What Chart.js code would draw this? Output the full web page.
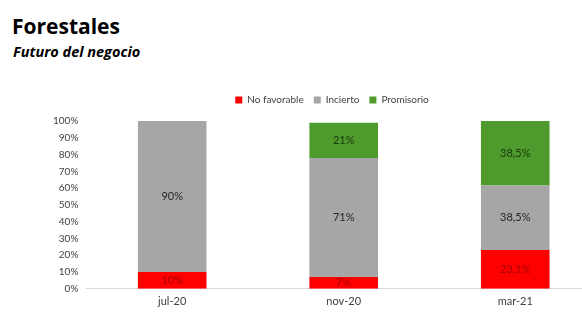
<!DOCTYPE html>
<html>
<head>
<meta charset="utf-8">
<script src="https://cdn.jsdelivr.net/npm/chart.js@4"></script>
<style>
  body { margin: 0; background: #fff; width: 582px; height: 330px; overflow: hidden; position: relative; }
  h1 { position: absolute; left: 12px; top: 12px; margin: 0; font: bold 21px "Open Sans", sans-serif; color: #000; }
  h2 { position: absolute; left: 13px; top: 42px; margin: 0; font: italic bold 14.5px "Open Sans", sans-serif; color: #000; }
  #wrap { position: absolute; left: 0; top: 0; width: 660px; height: 330px; }
</style>
</head>
<body>
<h1>Forestales</h1>
<h2>Futuro del negocio</h2>
<div id="wrap"><canvas id="futuroChart"></canvas></div>
<script>
var periodos = ['jul-20', 'nov-20', 'mar-21'];
var noFavorable = [10, 7, 23.1];
var incierto = [90, 71, 38.5];
var promisorio = [0, 21, 38.5];

// etiquetas de porcentaje dentro de cada segmento
var etiquetas = {
  id: 'etiquetas',
  afterDatasetsDraw: function (chart) {
    var ctx = chart.ctx;
    ctx.save();
    ctx.font = '11px Lato, sans-serif';
    ctx.textAlign = 'center';
    ctx.textBaseline = 'middle';
    chart.data.datasets.forEach(function (ds, i) {
      chart.getDatasetMeta(i).data.forEach(function (bar, j) {
        var v = ds.data[j];
        if (!v) return;
        var p = bar.getProps(['x', 'y', 'base'], true);
        ctx.fillStyle = ds.labelColor;
        ctx.fillText(String(v).replace('.', ',') + '%', p.x, (p.y + p.base) / 2);
      });
    });
    ctx.restore();
  }
};

// algo más de aire bajo la leyenda y un leve corrimiento a la derecha
var ajusteLeyenda = {
  id: 'ajusteLeyenda',
  beforeInit: function (chart) {
    var fit = chart.legend.fit;
    chart.legend.fit = function () {
      fit.call(this);
      this.height += 6;
    };
  },
  afterLayout: function (chart) {
    chart.legend.left += 9;
    chart.legend.right += 9;
  }
};

var ctx = document.getElementById('futuroChart').getContext('2d');
var futuroChart = new Chart(ctx, {
  type: 'bar',
  data: {
    labels: periodos,
    datasets: [{
      label: 'No favorable',
      data: noFavorable,
      backgroundColor: '#ff0000',
      labelColor: '#a30000'
    }, {
      label: 'Incierto',
      data: incierto,
      backgroundColor: '#a6a6a6',
      labelColor: '#262626'
    }, {
      label: 'Promisorio',
      data: promisorio,
      backgroundColor: '#4e9a2c',
      labelColor: '#1a3a0e'
    }]
  },
  options: {
    responsive: true,
    maintainAspectRatio: false,
    animation: false,
    layout: { padding: { top: 85, right: 59, left: 45, bottom: 16 } },
    datasets: { bar: { barPercentage: 0.8, categoryPercentage: 0.5 } },
    plugins: {
      tooltip: { enabled: false },
      legend: {
        labels: {
          boxWidth: 7,
          boxHeight: 7,
          padding: 10,
          color: '#404040',
          font: { family: 'Lato, sans-serif', size: 10 }
        }
      }
    },
    scales: {
      x: {
        stacked: true,
        grid: { display: false, drawTicks: false },
        border: { color: '#d9d9d9' },
        ticks: { color: '#404040', padding: 6, font: { family: 'Lato, sans-serif', size: 11 } }
      },
      y: {
        stacked: true,
        min: 0,
        max: 100,
        grid: { display: false, drawTicks: false },
        border: { display: false },
        ticks: {
          stepSize: 10,
          padding: 8,
          color: '#404040',
          font: { family: 'Lato, sans-serif', size: 10 },
          callback: function (v) { return v + '%'; }
        }
      }
    }
  },
  plugins: [etiquetas, ajusteLeyenda]
});
</script>
</body>
</html>
